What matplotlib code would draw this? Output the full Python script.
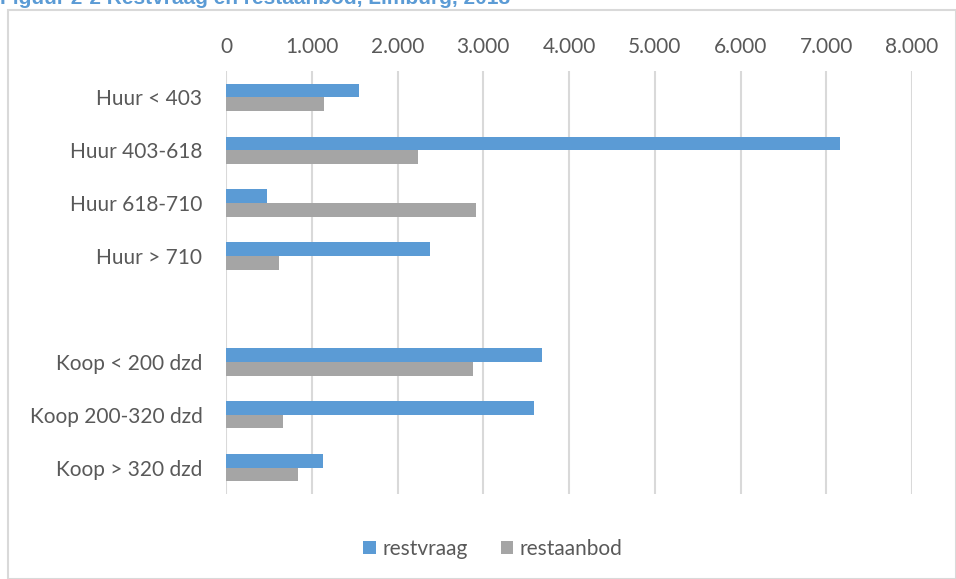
import matplotlib.pyplot as plt
from matplotlib.patches import Rectangle

categories = ['Huur < 403', 'Huur 403-618', 'Huur 618-710', 'Huur > 710', '',
              'Koop < 200 dzd', 'Koop 200-320 dzd', 'Koop > 320 dzd']
restvraag = [1550, 7160, 480, 2380, 0, 3680, 3590, 1130]
restaanbod = [1140, 2240, 2915, 620, 0, 2880, 660, 845]
ticks = [0, 1000, 2000, 3000, 4000, 5000, 6000, 7000, 8000]
tick_labels = ['0', '1.000', '2.000', '3.000', '4.000', '5.000', '6.000', '7.000', '8.000']

blue = '#5b9bd5'
grey = '#a5a5a5'
text_col = '#595959'

W, H = 956, 579
fig = plt.figure(figsize=(W / 100, H / 100), dpi=100)
plt.rcParams['font.family'] = ['Lato', 'DejaVu Sans']

# outer frame
fig.patches.append(Rectangle((8 / W, 0.5 / H), (W - 8) / W, (H - 10.5) / H,
                             transform=fig.transFigure, fill=False,
                             edgecolor='#d9d9d9', linewidth=1.5))
# title, cut off at the top edge as in the source
fig.text(0.5 / W, 1 + 1 / H, 'Figuur 2-2 Restvraag en restaanbod, Limburg, 2018',
         color=blue, fontsize=15, fontweight='bold', family='Liberation Sans',
         va='center', ha='left')

ax = fig.add_axes([226 / W, 1 - 494 / H, (912 - 226) / W, (494 - 71) / H])

y = list(range(len(categories)))
h = 0.26
ax.barh([v - h / 2 for v in y], restvraag, height=h, color=blue, label='restvraag')
ax.barh([v + h / 2 for v in y], restaanbod, height=h, color=grey, label='restaanbod')

ax.set_ylim(len(categories) - 0.5, -0.5)
ax.set_xlim(0, 8000)
ax.set_yticks(y)
ax.set_yticklabels(categories)
ax.set_xticks(ticks)
ax.set_xticklabels(tick_labels)
ax.xaxis.tick_top()
ax.tick_params(axis='both', length=0, labelsize=15, colors=text_col, pad=10)
ax.tick_params(axis='y', pad=17)
ax.grid(axis='x', color='#d9d9d9', linewidth=1.5)
ax.set_axisbelow(True)
for s in ax.spines.values():
    s.set_visible(False)

fig.legend(loc='center', bbox_to_anchor=(493 / W, 1 - 549 / H), ncol=2,
           frameon=False, fontsize=15, handlelength=0.6, handleheight=0.6,
           handletextpad=0.3, columnspacing=1.6, labelcolor=text_col)

fig.savefig('out.png', dpi=100)
